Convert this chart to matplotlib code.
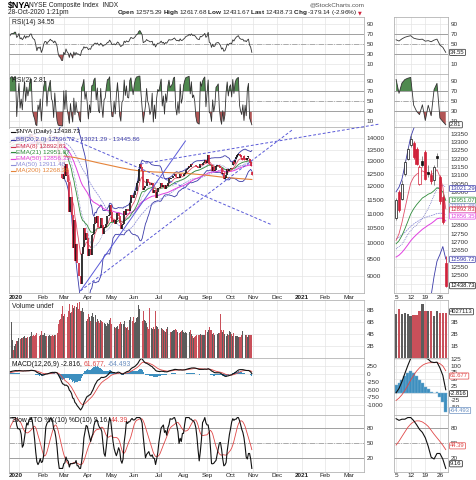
import numpy as np
import pandas as pd
import matplotlib
matplotlib.use("Agg")
import matplotlib.pyplot as plt
import matplotlib.transforms as mtransforms
from matplotlib.patches import Rectangle
from matplotlib.ticker import FixedLocator, FixedFormatter, NullLocator

plt.rcParams["font.family"] = ["Liberation Sans", "DejaVu Sans"]
plt.rcParams["mathtext.fontset"] = "custom"
plt.rcParams["mathtext.rm"] = "Liberation Sans"
plt.rcParams["mathtext.bf"] = "Liberation Sans:bold"

W, H = 476, 480

# $NYA daily closes, 18-Nov-2019 .. 28-Oct-2020
close = [
    13518, 13510, 13460, 13438, 13467, 13569, 13598, 13655, 13600,                      # Nov 19
    13452, 13363, 13447, 13467, 13590, 13547, 13532, 13572, 13688, 13685, 13771,
    13776, 13770, 13815, 13883, 13895, 13893, 13951, 13952, 13871, 13913,               # Dec 19
    14009, 13910, 13943, 13904, 13956, 14048, 13992, 14073, 14052, 14078, 14180,
    14184, 14113, 14084, 14067, 13940, 13721, 13826, 13781, 13824, 13547,               # Jan
    13645, 13850, 14006, 14019, 13910, 14012, 14069, 14160, 14103, 14095, 14020,
    14103, 14033, 13885, 13387, 12982, 12871, 12332, 12300,                             # Feb
    12794, 12404, 12896, 12429, 12157, 11069, 11587, 10966, 9848, 10790, 9449,
    9990, 9401, 9373, 9012, 8771, 9667, 9877, 10494, 10115, 10323, 10157,               # Mar
    9610, 9804, 9631, 10282, 10292, 10642, 10880, 10660, 10900, 10549, 10498,
    10837, 10615, 10289, 10497, 10519, 10638, 10909, 10938, 11288, 11067,               # Apr
    10700, 10689, 10785, 10653, 10776, 11016, 10930, 10677, 10462, 10611, 10624,
    11107, 10961, 11173, 11086, 11083, 11369, 11659, 11604, 11568,                      # May
    11673, 11830, 12117, 12200, 12680, 12897, 12760, 12600, 11850, 11950, 12030,
    12280, 12170, 12140, 12060, 12070, 12120, 11760, 11880, 11580, 11800, 11940,        # Jun
    11930, 11990, 12150, 11990, 12060, 11900, 12050, 12000, 12150, 12330, 12300,
    12320, 12330, 12420, 12470, 12380, 12330, 12360, 12320, 12470, 12390, 12410,        # Jul
    12480, 12540, 12650, 12690, 12720, 12820, 12780, 12900, 12850, 12860, 12850,
    12810, 12760, 12740, 12730, 12880, 12870, 12920, 12970, 13050, 12950,               # Aug
    13010, 13260, 12880, 12850, 12600, 12780, 12620, 12660, 12830, 12850, 12870,
    12800, 12710, 12480, 12540, 12290, 12320, 12460, 12680, 12600, 12700,               # Sep
    12730, 12700, 12955, 12890, 13050, 13180, 13260, 13320, 13210, 13170,
    13150, 13165, 13080, 13110, 13065, 13150, 13205, 12945, 12817.87, 12438.73,         # Oct
]
first_day = -30          # 18-Nov-2019, counted in sessions from 2-Jan-2020
start_day = -8           # chart starts 19-Dec-2019

# last 18 sessions, 5-Oct .. 28-Oct (zoom panel candles)
zoom_open = [12845, 13000, 12960, 13110, 13200, 13285, 13295, 13260, 13050,
             13185, 13240, 13120, 13100, 13070, 13215, 13090, 12970, 12575.29]
zoom_high = [12965, 13015, 13075, 13190, 13270, 13345, 13305, 13270, 13160,
             13215, 13255, 13160, 13135, 13160, 13235, 13100, 12985, 12617.68]
zoom_low = [12835, 12880, 12950, 13095, 13190, 13270, 13200, 13160, 13040,
            13150, 13070, 13090, 13050, 13040, 13150, 12930, 12810, 12431.67]
zoom_dates = ["5", "12", "19", "26"]

# volume in billions from 19-Dec-2019
volume = [
    3.6, 6.0, 3.0, 1.3, 2.0, 2.4, 2.8, 2.9,
    3.3, 3.2, 3.3, 3.4, 3.5, 3.6, 3.3, 3.4, 3.5, 3.5, 3.6, 4.4, 3.7, 3.8, 3.7, 3.9,
    4.2, 3.9, 3.7, 3.9, 4.5,
    3.9, 3.8, 4.2, 3.7, 3.6, 3.6, 3.8, 3.7, 3.7, 3.9, 3.6, 3.8, 3.9, 4.1, 5.7, 6.3,
    6.5, 7.3, 8.6,
    7.0, 7.4, 6.7, 6.8, 7.8, 9.0, 7.5, 7.7, 8.9, 8.4, 8.6, 8.5, 9.1, 8.2, 9.3, 7.9,
    7.8, 8.3, 7.6, 7.0, 6.2, 6.5,
    7.3, 6.8, 6.2, 7.0, 7.5, 6.9, 7.2, 6.0, 6.5, 6.1, 5.8, 6.4, 6.1, 6.0, 5.9, 5.6,
    5.4, 5.9, 5.7, 6.3, 6.6,
    5.6, 5.1, 5.2, 5.0, 5.1, 5.3, 4.9, 5.6, 6.0, 5.7, 5.6, 6.2, 5.2, 5.0, 5.1, 4.7,
    6.4, 6.9, 6.1, 6.8,
    5.9, 6.0, 6.6, 6.8, 8.9, 8.2, 6.6, 6.1, 7.9, 6.3, 6.2, 5.8, 5.1, 4.9, 8.3, 5.0,
    4.9, 5.1, 4.9, 7.8, 5.4, 5.1,
    4.9, 4.6, 5.0, 4.9, 4.6, 4.5, 4.4, 4.8, 5.2, 4.9, 4.4, 4.4, 4.5, 4.6, 4.6, 4.9,
    4.6, 4.3, 4.2, 4.4, 4.5, 4.7,
    4.3, 4.1, 4.3, 4.1, 3.9, 4.4, 4.6, 4.0, 3.7, 3.4, 3.5, 3.6, 3.9, 3.8, 3.9, 4.0,
    3.8, 3.9, 3.8, 3.9, 4.7,
    4.3, 4.6, 5.1, 4.7, 4.6, 4.0, 4.2, 3.9, 4.3, 4.0, 4.2, 4.1, 7.3, 4.6, 4.3, 4.6,
    4.0, 3.6, 4.0, 3.9, 4.5,
    4.3, 4.0, 3.64, 4.11, 3.64, 3.72, 3.64, 3.50, 3.55, 3.55, 3.92, 4.48, 3.92, 3.92,
    3.92, 3.50, 3.92, 3.77, 3.77, 3.77,
]

# MA(200)
ma200_day = [-8, 10, 25, 40, 50, 60, 70, 80, 90, 100, 108, 120, 135, 150, 165, 180, 195, 208]
ma200_val = [13080, 13150, 13220, 13230, 13160, 13060, 12950, 12850, 12750, 12660,
             12610, 12570, 12540, 12510, 12450, 12370, 12310, 12268.38]

# hand drawn trend lines (session, price)
trend_lines = [
    ((55, 8590), (148.7, 13879), "-"),
    ((55, 8590), (244, 14377), "--"),
    ((42.7, 14058), (226.2, 10604), "--"),
    ((108.6, 12893), (322.4, 14657), "--"),
]

month_day = [0, 21, 40, 62, 83, 103, 125, 147, 168, 189, 209, 230.5, 252.5, 273.5, 294.5]
month_lbl = ["2020", "Feb", "Mar", "Apr", "May", "Jun", "Jul", "Aug", "Sep", "Oct",
             "Nov", "Dec", "2021", "Feb", "Mar"]

RED = "#d0213a"
VRED = "#c9505a"
VGRAY = "#5c5c5c"
NAVY = "#3a3aa8"
GREEN = "#2e8b3a"
MAG = "#e040e0"
LAV = "#8e8ed8"
ORANGE = "#e5843a"
TREND = "#5a5ad8"
HISTC = "#3d8fbf"
GRID = "#e4e4e4"
FS = 4.6

# indicators
c = pd.Series(close, dtype=float)
day = np.arange(len(c)) + first_day
ema = lambda n: c.ewm(span=n, adjust=False).mean()
ema8, ema21, ema50 = ema(8), ema(21), ema(50)
ma50 = c.rolling(50, min_periods=1).mean()
bb_mid = c.rolling(20, min_periods=1).mean()
bb_sd = c.rolling(20, min_periods=1).std(ddof=0)
bb_up, bb_lo = bb_mid + 2 * bb_sd, bb_mid - 2 * bb_sd


def rsi(n):
    d = c.diff()
    up = d.clip(lower=0).ewm(alpha=1 / n, adjust=False).mean()
    dn = (-d.clip(upper=0)).ewm(alpha=1 / n, adjust=False).mean()
    return 100 - 100 / (1 + up / dn)


rsi14, rsi2 = rsi(14), rsi(2)
macd = ema(12) - ema(26)
signal = macd.ewm(span=9, adjust=False).mean()
hist = macd - signal
hh = c.rolling(10, min_periods=1).max()
ll = c.rolling(10, min_periods=1).min()
fast_k = 100 * (c - ll) / (hh - ll).replace(0, np.nan)
slow_k = fast_k.rolling(3, min_periods=1).mean()
slow_d = slow_k.rolling(10, min_periods=1).mean()
chg = c.diff()

vis = day >= start_day
nz = len(zoom_open)
zd = np.arange(nz)
zi = slice(len(c) - nz, len(c))
n_full = len(c) - nz

fig = plt.figure(figsize=(W / 100, H / 100), dpi=100)
fig.patch.set_facecolor("white")


def panel(x0, x1, y0, y1):
    ax = fig.add_axes([x0 / W, 1 - y1 / H, (x1 - x0) / W, (y1 - y0) / H])
    for s in ax.spines.values():
        s.set_color("#b4b4b4")
        s.set_linewidth(0.6)
    ax.yaxis.tick_right()
    ax.tick_params(axis="both", length=0, labelsize=FS, colors="#333333", pad=2)
    ax.tick_params(axis="x", labelbottom=False)
    return ax


rows = {"rsi14": (17, 74), "rsi2": (74, 127), "price": (127, 293),
        "vol": (300, 358), "macd": (358, 415), "sto": (415, 472)}
MX, RX = (9, 364), (394, 448)
main = {k: panel(MX[0], MX[1], *v) for k, v in rows.items()}
zoom = {k: panel(RX[0], RX[1], *v) for k, v in rows.items()}

for ax in main.values():
    ax.set_xlim(-8.9, 308.2)
    ax.set_xticks(month_day)
    ax.grid(True, color=GRID, lw=0.5)
    ax.set_axisbelow(True)
for ax in zoom.values():
    ax.set_xlim(-0.72, 17.77)
    ax.set_xticks([0, 5, 10, 15])
    ax.grid(True, color=GRID, lw=0.5)
    ax.set_axisbelow(True)


def set_yt(ax, vals, labels=None):
    ax.yaxis.set_major_locator(FixedLocator(vals))
    ax.yaxis.set_minor_locator(NullLocator())
    ax.yaxis.set_major_formatter(FixedFormatter(labels or [str(v) for v in vals]))


def vbox(ax, val, txt, col):
    ax.annotate(txt, xy=(1, val), xycoords=("axes fraction", "data"), xytext=(1.6, 0),
                textcoords="offset points", ha="left", va="center", fontsize=4.2, color=col,
                bbox=dict(boxstyle="round,pad=0.1", fc="white", ec=col, lw=0.5),
                annotation_clip=False, zorder=10)


def draw_label(ax, parts, y_px_off=2.5):
    r = fig.canvas.get_renderer()
    x = ax.transAxes.transform((0, 1))[0] + 3
    y = ax.transAxes.transform((0, 1))[1] - y_px_off
    for s, col in parts:
        t = fig.text(x / W, y / H, s, fontsize=FS + 0.3, color=col, va="top", ha="left", zorder=12)
        x = t.get_window_extent(r).x1 + 1.5


# RSI panels
for key, series, lbl, val in [("rsi14", rsi14, "RSI(14) 34.55", "34.55"),
                              ("rsi2", rsi2, "RSI(2) 2.81", "2.81")]:
    for ax, xs, ys in [(main[key], day[vis], series[vis].values),
                       (zoom[key], zd, series.values[zi])]:
        lo, hi = (-9.4, 104.6) if key == "rsi14" else (-2, 104)
        ax.set_ylim(lo, hi)
        set_yt(ax, [90, 70, 50, 30, 10])
        ax.axhline(70, color="#a0a0a0", lw=0.7)
        ax.axhline(30, color="#a0a0a0", lw=0.7)
        ax.axhline(50, color="#a0a0a0", lw=0.6, ls="-.")
        ax.fill_between(xs, ys, 70, where=ys > 70, interpolate=True, color="#4f8a4f", lw=0)
        ax.fill_between(xs, ys, 30, where=ys < 30, interpolate=True, color="#b25656", lw=0)
        ax.plot(xs, ys, color="#333333", lw=0.6)
    vbox(zoom[key], float(series.values[-1]), val, "#222222")
    draw_label(main[key], [(lbl, "#222222")])

# price panel
ax = main["price"]
ax.set_yscale("log")
ax.set_ylim(8527, 14516)
set_yt(ax, [9000 + 500 * i for i in range(11)])
for i in np.where(vis)[0]:
    if i >= n_full:
        break
    col = RED if chg[i] < 0 else "#111111"
    ax.vlines(day[i], c[i - 1], c[i], color=col, lw=1.2, zorder=4)
for k in range(nz):
    i = n_full + k
    col = RED if chg[i] < 0 else "#111111"
    ax.vlines(day[i], zoom_low[k], zoom_high[k], color=col, lw=0.5, zorder=4)
    ax.vlines(day[i], zoom_open[k], c[i], color=col, lw=1.2, zorder=4)
ax.plot(day[vis], bb_up[vis], color=NAVY, lw=0.6, zorder=3)
ax.plot(day[vis], bb_lo[vis], color=NAVY, lw=0.6, zorder=3)
ax.plot(day[vis], bb_mid[vis], color=NAVY, lw=0.4, ls=":", zorder=3)
ax.plot(day[vis], ma50[vis], color=LAV, lw=0.6, ls=(0, (2, 1)), zorder=3)
ax.plot(day[vis], ema50[vis], color=MAG, lw=0.7, zorder=3)
ax.plot(day[vis], ema21[vis], color=GREEN, lw=0.6, zorder=3)
ax.plot(day[vis], ema8[vis], color="#e0506a", lw=0.6, zorder=3)
ax.plot(ma200_day, ma200_val, color=ORANGE, lw=0.8, zorder=3)
for (x0, y0), (x1, y1), ls in trend_lines:
    kw = dict(dashes=(3, 2)) if ls == "--" else {}
    ax.plot([x0, x1], [y0, y1], color=TREND, lw=0.7, zorder=5, clip_on=(x1 < 308), **kw)

ax.add_patch(Rectangle((0, 0.715), 0.155, 0.27, transform=ax.transAxes, fc="white", ec="none",
                       alpha=0.85, zorder=8))
legend_rows = [("$NYA (Daily) 12438.73", "#111111", 131.7),
               ("BB(20,2.0) 12596.72 - 13021.29 - 13445.86", NAVY, 139.5),
               ("EMA(8) 12892.83", "#d0304a", 146.5),
               ("EMA(21) 12951.07", GREEN, 152.5),
               ("EMA(50) 12856.35", MAG, 158.5),
               ("MA(50) 12911.48", LAV, 164.5),
               ("MA(200) 12268.38", ORANGE, 170.5)]
for txt, col, ypx in legend_rows:
    fig.add_artist(plt.Line2D([11 / W, 15 / W], [1 - ypx / H] * 2, color=col, lw=0.8, zorder=12))
    fig.text(16 / W, 1 - ypx / H, txt, fontsize=FS, color=col, va="center", ha="left", zorder=12)

# zoom price panel
ax = zoom["price"]
ax.set_ylim(12395, 13390)
set_yt(ax, [12450 + 50 * i for i in range(19)])
for k in range(nz):
    i = n_full + k
    col = RED if chg[i] < 0 else "#111111"
    o, cl = zoom_open[k], c[i]
    ax.vlines(k, zoom_low[k], zoom_high[k], color="#777777" if col != RED else RED, lw=0.6, zorder=4)
    fc = "white" if cl > o else col
    ax.bar(k, max(abs(cl - o), 4), bottom=min(o, cl), width=0.72, color=fc, edgecolor=col,
           lw=0.5, zorder=5)
ax.plot(zd, bb_up.values[zi], color=NAVY, lw=0.6)
ax.plot(zd, bb_lo.values[zi], color=NAVY, lw=0.6)
ax.plot(zd, bb_mid.values[zi], color=NAVY, lw=0.5, ls=":")
ax.plot(zd, ma50.values[zi], color=LAV, lw=0.6, ls=(0, (2, 1)))
ax.plot(zd, ema50.values[zi], color=MAG, lw=0.7)
ax.plot(zd, ema21.values[zi], color=GREEN, lw=0.6)
ax.plot(zd, ema8.values[zi], color="#e0506a", lw=0.6)
for v, t, col in [(13021.29, "13021.29", NAVY), (12951.07, "12951.07", GREEN),
                  (12911.48, "12911.48", LAV), (12892.83, "12892.83", RED),
                  (12856.35, "12856.35", MAG), (12596.72, "12596.72", NAVY),
                  (12438.73, "12438.73", "#111111")]:
    vbox(ax, v, t, col)

# date rows
for axm, axz, yoff in [(main["price"], zoom["price"], -0.026), (main["sto"], zoom["sto"], -0.06)]:
    tr = mtransforms.blended_transform_factory(axm.transData, axm.transAxes)
    for d, lbl in zip(month_day, month_lbl):
        x = -2.6 if lbl == "2020" else d
        axm.text(x, yoff, lbl, transform=tr, fontsize=FS, ha="center", va="center",
                 fontweight="bold" if lbl.isdigit() else "normal", color="#222222", clip_on=False)
    tr = mtransforms.blended_transform_factory(axz.transData, axz.transAxes)
    for d, lbl in zip([0, 5, 10, 15], zoom_dates):
        axz.text(d, yoff, lbl, transform=tr, fontsize=FS, ha="center", va="center", color="#222222")

# volume
vol = np.array(volume)
vday = np.arange(len(vol)) + start_day
vidx = vday - first_day
vcol = [VRED if chg[i] < 0 else VGRAY for i in vidx]
ax = main["vol"]
ax.set_ylim(0, 9.68)
set_yt(ax, [8, 6, 4, 2], ["8B", "6B", "4B", "2B"])
ax.bar(vday, vol, width=0.85, color=vcol, lw=0)
draw_label(ax, [("Volume undef", "#222222")])
ax = zoom["vol"]
ax.set_ylim(0, 4.84)
set_yt(ax, [3, 2, 1], ["3B", "2B", "1B"])
ax.bar(zd, vol[-nz:], width=0.85, color=vcol[-nz:], lw=0)
vbox(ax, 3.86, "4027113", "#222222")

# MACD
ax = main["macd"]
ax.set_ylim(-1320, 513)
set_yt(ax, [250, 0, -250, -500, -750, -1000])
ax.bar(day[vis], hist[vis], width=1.0, color=HISTC, lw=0)
ax.plot(day[vis], signal[vis], color="#e04848", lw=0.6)
ax.plot(day[vis], macd[vis], color="#111111", lw=0.8)
draw_label(ax, [("MACD(12,26,9) -2.816,", "#111111"), ("61.677,", "#e04848"), ("-64.493", "#6a8fc0")])
ax = zoom["macd"]
ax.set_ylim(-81, 127.5)
set_yt(ax, [125, 100, 75, 50, 25, 0, -25, -50])
ax.bar(zd, hist.values[zi], width=1.0, color=HISTC, ec="#7fb4d4", lw=0.3)
ax.plot(zd, signal.values[zi], color="#e04848", lw=0.6)
ax.plot(zd, macd.values[zi], color="#111111", lw=0.8)
vbox(ax, 61.677, "61.677", "#e04848")
vbox(ax, -2.816, "-2.816", "#111111")
vbox(ax, -64.493, "-64.493", "#6a8fc0")

# stochastics
for ax, xs, k_, d_ in [(main["sto"], day[vis], slow_k[vis].values, slow_d[vis].values),
                       (zoom["sto"], zd, slow_k.values[zi], slow_d.values[zi])]:
    ax.set_ylim(-7, 105)
    set_yt(ax, [80, 50, 20])
    ax.axhline(80, color="#a0a0a0", lw=0.7)
    ax.axhline(20, color="#a0a0a0", lw=0.7)
    ax.axhline(50, color="#a0a0a0", lw=0.6, ls="-.")
    ax.plot(xs, d_, color="#e04848", lw=0.6)
    ax.plot(xs, k_, color="#111111", lw=0.8)
draw_label(main["sto"], [("Slow STO %K(10) %D(10) 9.16,", "#111111"), ("44.39", "#e04848")])
vbox(zoom["sto"], 44.39, "44.39", "#e04848")
vbox(zoom["sto"], 9.16, "9.16", "#111111")

# header
fig.text(8 / W, 1 - 5.5 / H, "$NYA", fontsize=6.4, fontweight="bold", va="center", ha="left")
fig.text(29 / W, 1 - 5.5 / H, "NYSE Composite Index  INDX", fontsize=4.8, va="center", ha="left",
         color="#222222")
fig.text(364 / W, 1 - 5 / H, "@StockCharts.com", fontsize=4.6, va="center", ha="right", color="#555555")
fig.text(8 / W, 1 - 12.8 / H, "28-Oct-2020 1:21pm", fontsize=4.8, va="center", ha="left", color="#222222")
fig.text(357 / W, 1 - 12.8 / H,
         r"$\bf{Open}$ 12575.29 $\bf{High}$ 12617.68 $\bf{Low}$ 12431.67 "
         r"$\bf{Last}$ 12438.73 $\bf{Chg}$ -379.14 (-2.96%)",
         fontsize=4.6, va="center", ha="right", color="#222222")
fig.text(358 / W, 1 - 13 / H, "\u25bc", fontsize=3.5, va="center", ha="left", color=RED,
         family="DejaVu Sans")

fig.savefig("out.png", dpi=100, facecolor="white")
